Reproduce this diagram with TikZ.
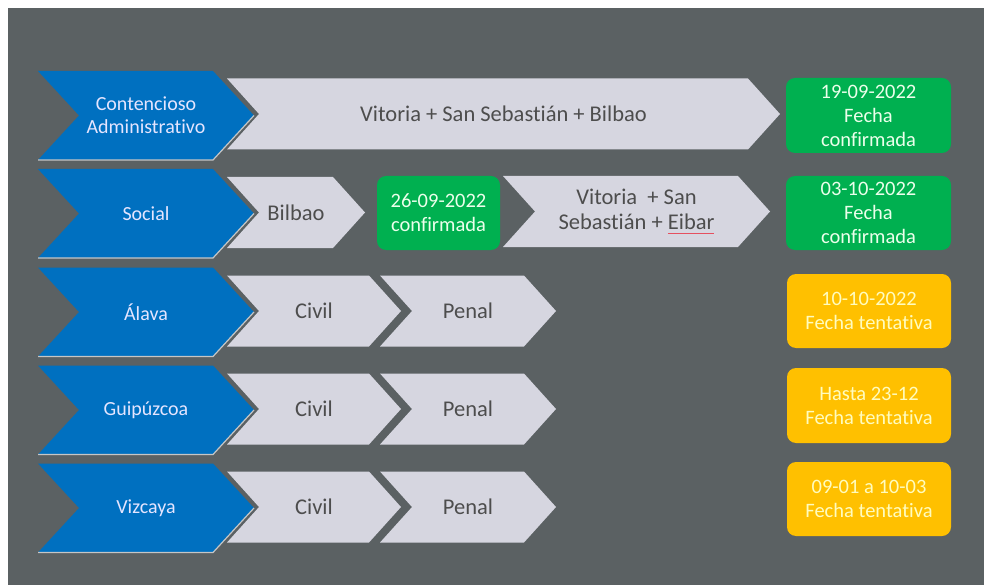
\documentclass[tikz,border=0pt]{standalone}
\usepackage{fontspec}
\setmainfont{Carlito}[Ligatures=NoCommon]
\usepackage{tikz}
\usetikzlibrary{positioning}
\definecolor{slate}{HTML}{5B6163}
\definecolor{regionblue}{HTML}{0070C0}
\definecolor{stagegray}{HTML}{D6D6E0}
\definecolor{textgray}{HTML}{4D4D4D}
\definecolor{okgreen}{HTML}{00B050}
\definecolor{tentyellow}{HTML}{FFC000}
\definecolor{spellred}{HTML}{E5505F}
\tikzset{
  region/.style={fill=regionblue},
  regionedge/.style={draw=gray!45, line width=1.2pt},
  regiontext/.style={text=blue!10!white, font=\fontsize{20}{23}\selectfont, align=center},
  stage/.style={fill=stagegray},
  stageedge/.style={draw=none},
  stagetext/.style={text=textgray, font=\fontsize{22.5}{25}\selectfont, align=center},
  datebox/.style={rectangle, rounded corners=9pt, inner sep=0pt, align=center, font=\fontsize{20.5}{24}\selectfont, minimum width=165pt, minimum height=75pt},
  confirmed/.style={datebox, fill=okgreen, text=green!8!white},
  tentative/.style={datebox, fill=tentyellow, text=yellow!25!white},
}
% chevron: name, style, left x, tip x, centre y, half height, depth, text
\newcommand{\chevron}[8]{%
  \fill[#2] (#3,#5-#6) -- (#4-#7,#5-#6) -- (#4,#5) -- (#4-#7,#5+#6) -- (#3,#5+#6) -- (#3+#7,#5) -- cycle;
  \draw[#2edge] (#3,#5+#6) -- (#4-#7,#5+#6) -- (#4,#5);
  \node[#2text] (#1) at ({(#3+#4)/2},#5) {#8};}
% red spelling mark under a word
\newcommand{\spellmark}[1]{\setbox0\hbox{#1}\rlap{\color{spellred}\rule[-4.5pt]{\wd0}{1.2pt}}#1}
\begin{document}
\begin{tikzpicture}[x=1pt,y=-1pt]
\fill[white] (0,0) rectangle (984,585);
\fill[slate] (8,8) rectangle (984,585);
% sedes
\chevron{sedesca}{stage}{227}{780}{114}{35.5}{32}{Vitoria + San Sebastián + Bilbao}
\chevron{bilbao}{stage}{227}{365}{212.5}{35.5}{32}{Bilbao}
\chevron{resto}{stage}{503}{770}{211.5}{35.5}{32}{Vitoria\ \ + San\\Sebastián + \spellmark{Eibar}}
\chevron{civila}{stage}{227}{401}{311}{35.5}{32}{Civil}
\chevron{penala}{stage}{380}{556}{311}{35.5}{32}{Penal}
\chevron{civilg}{stage}{227}{401}{409}{35.5}{32}{Civil}
\chevron{penalg}{stage}{380}{556}{409}{35.5}{32}{Penal}
\chevron{civilv}{stage}{227}{401}{507}{35.5}{32}{Civil}
\chevron{penalv}{stage}{380}{556}{507}{35.5}{32}{Penal}
% jurisdicciones
\chevron{contencioso}{region}{38}{254}{115.5}{44.5}{41}{Contencioso\\Administrativo}
\chevron{social}{region}{38}{254}{213.5}{44.5}{41}{Social}
\chevron{alava}{region}{38}{254}{312}{44.5}{41}{Álava}
\chevron{guipuzcoa}{region}{38}{254}{410}{44.5}{41}{Guipúzcoa}
\chevron{vizcaya}{region}{38}{254}{508}{44.5}{41}{Vizcaya}
% fechas
\node[confirmed, minimum width=123pt, minimum height=74pt] (fbilbao) at (438.5,213) {26-09-2022\\confirmada};
\node[confirmed] (fcontencioso) at (868.5,115.5) {19-09-2022\\Fecha\\confirmada};
\node[confirmed, minimum height=74pt] (fsocial) at (868.5,213) {03-10-2022\\Fecha\\confirmada};
\node[tentative, minimum width=164pt, minimum height=74pt] (falava) at (869,311) {10-10-2022\\Fecha tentativa};
\node[tentative, minimum width=164pt] (fguipuzcoa) at (869,405.5) {Hasta 23-12\\Fecha tentativa};
\node[tentative, minimum width=164pt, minimum height=74pt] (fvizcaya) at (869,499) {09-01 a 10-03\\Fecha tentativa};
\end{tikzpicture}
\end{document}
